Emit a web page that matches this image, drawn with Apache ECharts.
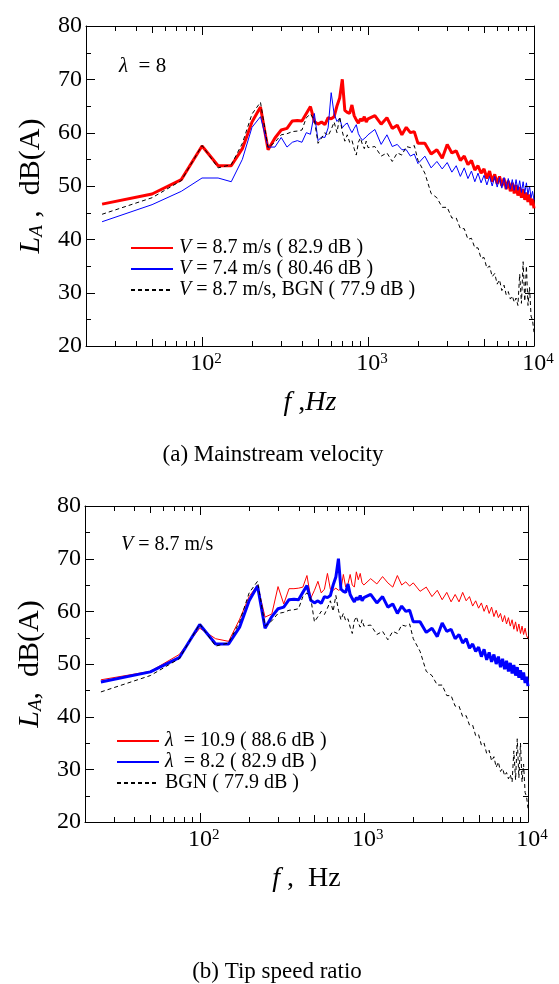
<!DOCTYPE html>
<html>
<head>
<meta charset="utf-8">
<script src="https://cdn.jsdelivr.net/npm/echarts@6/dist/echarts.min.js"></script>
<style>html,body{margin:0;background:#fff}#chart{width:559px;height:984px}</style>
</head>
<body>
<div id="chart"></div>
<script>
// frequency grid (Hz) shared by every spectrum
const freq = [25,50,75,100,125,150,175,200,225,250,275,300,325,350,375,400,425,450,475,500,
    525,550,575,600,625,650,675,700,725,750,775,800,825,850,875,900,925,950,975,1000,
    1100,1200,1300,1400,1500,1600,1700,1800,1900,2000,
    2200,2400,2600,2800,3000,3200,3400,3600,3800,4000,4200,4400,4600,4800,5000,5200,5400,5600,5800,6000,
    6200,6400,6600,6800,7000,7200,7400,7600,7800,8000,8200,8400,8600,8800,9000,9200,9400,9600,9800,10000];

// V = 8.7 m/s, lambda ~ 8 (82.9 dB) - same run in both panels
const la87 = [46.6,48.5,51.2,57.5,53.8,53.8,57.0,62.0,64.8,56.8,59.0,60.5,60.8,62.2,62.3,62.2,63.6,64.9,62.1,61.6,
    62.0,61.5,62.8,62.6,63.0,65.0,66.5,70.0,64.2,63.8,63.6,65.2,63.2,62.4,61.8,62.6,62.2,63.0,62.0,62.6,
    63.2,61.6,62.8,60.8,61.4,59.6,61.0,60.0,60.2,58.0,
    58.0,56.0,56.8,55.2,57.8,56.2,56.6,54.8,55.6,54.0,54.8,53.0,53.8,52.4,53.2,51.4,52.8,50.8,52.2,50.4,
    51.8,50.0,51.4,49.4,51.0,49.0,50.6,48.6,50.2,48.2,49.8,47.8,49.4,47.4,48.8,47.0,48.4,46.4,47.6,45.8];

// V = 7.4 m/s (80.46 dB)
const la74 = [43.3,46.5,49.0,51.5,51.5,50.8,55.0,61.0,63.0,57.3,57.3,59.1,57.3,58.2,58.5,58.2,60.0,59.7,63.6,58.5,
    59.2,59.1,60.9,67.5,63.5,62.1,62.7,60.9,61.5,61.8,60.8,60.0,60.8,61.5,59.8,59.1,58.6,58.5,59.2,59.6,
    60.6,57.8,59.6,57.4,57.8,56.8,56.8,55.6,56.0,54.2,
    55.6,53.4,54.6,53.2,54.4,52.6,53.8,51.8,53.4,51.4,52.8,50.8,52.4,50.6,52.0,50.2,51.8,50.0,51.8,49.8,
    51.6,49.6,51.6,49.4,51.4,49.4,51.2,49.2,51.2,49.2,51.0,48.8,50.8,48.6,50.6,48.4,50.0,47.8,49.0,47.4];

// background noise (77.9 dB)
const bgn = [44.7,47.8,51.0,57.6,53.4,54.0,58.0,63.5,65.7,57.2,58.2,59.6,59.8,60.2,60.3,60.5,62.8,63.5,62.4,58.0,
    59.0,60.0,59.4,60.6,62.0,60.0,63.0,60.2,58.4,59.6,58.2,58.6,57.0,55.8,58.2,59.0,57.8,57.0,58.4,57.2,
    57.4,55.6,56.2,54.6,56.2,55.8,57.4,57.2,57.6,54.8,
    52.4,48.6,47.8,46.0,46.0,44.0,44.0,42.0,42.0,40.0,40.2,38.4,38.4,36.4,36.6,34.6,35.0,33.0,33.6,31.6,
    32.4,30.4,31.4,29.6,30.2,28.8,29.4,28.2,29.0,27.6,33.5,28.0,35.8,28.4,35.0,27.6,31.0,25.6,24.8,22.6];

// lambda = 10.9 (88.6 dB)
const la109 = [47.0,48.6,51.8,56.8,54.8,54.3,58.5,62.8,65.0,58.9,59.5,64.7,61.4,64.3,64.3,64.4,64.6,66.8,62.5,64.0,
    65.7,63.5,64.2,67.2,64.2,64.0,64.4,64.0,64.2,67.0,64.6,65.2,67.0,65.0,64.6,67.5,66.0,67.2,65.4,65.0,
    66.2,65.2,66.6,65.4,64.6,66.8,65.0,65.6,64.8,65.4,
    63.8,64.6,62.8,64.0,62.2,63.6,61.8,63.2,61.8,63.6,62.0,62.8,61.0,62.0,60.6,61.6,60.0,61.2,59.6,60.8,
    59.0,60.2,58.8,59.6,58.0,59.2,57.6,58.8,57.2,58.4,56.6,58.0,56.2,57.6,55.8,57.2,55.6,56.8,55.4,54.8];

// tick positions
const xTicks = [30,40,50,60,70,80,90,100,200,300,400,500,600,700,800,900,1000,
    2000,3000,4000,5000,6000,7000,8000,9000];
const yTicks = [25,30,35,40,45,50,55,60,65,70,75];
const X_MIN = 20, X_MAX = 10000, Y_MIN = 20, Y_MAX = 80;

const serif = '"Liberation Serif", "Times New Roman", serif';

const names1 = ['V = 8.7 m/s ( 82.9 dB )', 'V = 7.4 m/s ( 80.46 dB )', 'V = 8.7 m/s, BGN ( 77.9 dB )'];
const names2 = ['λ = 10.9 ( 88.6 dB )', 'λ = 8.2 ( 82.9 dB )', 'BGN ( 77.9 dB )'];
const legendRich = {
    [names1[0]]: '{i|V}{n| = 8.7 m/s ( 82.9 dB )}',
    [names1[1]]: '{i|V}{n| = 7.4 m/s ( 80.46 dB )}',
    [names1[2]]: '{i|V}{n| = 8.7 m/s, BGN ( 77.9 dB )}',
    [names2[0]]: '{i|λ}{n|  = 10.9 ( 88.6 dB )}',
    [names2[1]]: '{i|λ}{n|  = 8.2 ( 82.9 dB )}',
    [names2[2]]: '{n|BGN ( 77.9 dB )}'
};

function isDecade(v) {
    const e = Math.log10(v);
    return Math.abs(e - Math.round(e)) < 1e-6;
}

function pairs(vals) {
    return freq.map((f, i) => [f, vals[i]]);
}

const black = '#000';
const axisLine = { onZero: false, lineStyle: { color: black, width: 1 } };

function xAxes(gi, nameRich) {
    return [{
        gridIndex: gi, type: 'log', logBase: 10, min: X_MIN, max: X_MAX, position: 'bottom',
        axisLine, axisTick: { show: false }, splitLine: { show: false },
        axisLabel: {
            margin: 6, color: black,
            formatter: (v) => isDecade(v) ? `{pad|}{b|10}{s|${Math.round(Math.log10(v))}}` : '',
            rich: {
                pad: { width: 8 },
                b: { fontFamily: serif, fontSize: 24, color: black },
                s: { fontFamily: serif, fontSize: 15, color: black, verticalAlign: 'top' }
            }
        },
        name: nameRich, nameLocation: 'middle', nameGap: 43,
        nameTextStyle: {
            color: black,
            rich: {
                i: { fontFamily: serif, fontSize: 28, fontStyle: 'italic', color: black },
                n: { fontFamily: serif, fontSize: 28, color: black }
            }
        }
    }, {
        gridIndex: gi, type: 'log', logBase: 10, min: X_MIN, max: X_MAX, position: 'top',
        axisLine, axisTick: { show: false }, axisLabel: { show: false }, splitLine: { show: false }
    }];
}

function yAxes(gi, nameRich) {
    return [{
        gridIndex: gi, type: 'value', min: Y_MIN, max: Y_MAX, interval: 10, position: 'left', axisLine,
        axisTick: { show: false }, splitLine: { show: false },
        axisLabel: { fontFamily: serif, fontSize: 24, color: black, margin: 4 },
        name: nameRich, nameLocation: 'middle', nameRotate: 90, nameGap: 40,
        nameTextStyle: {
            color: black,
            rich: {
                i: { fontFamily: serif, fontSize: 30, fontStyle: 'italic', color: black },
                sub: { fontFamily: serif, fontSize: 19, fontStyle: 'italic', color: black, verticalAlign: 'bottom' },
                n: { fontFamily: serif, fontSize: 30, color: black }
            }
        }
    }, {
        gridIndex: gi, type: 'value', min: Y_MIN, max: Y_MAX, interval: 10, position: 'right', axisLine,
        axisTick: { show: false }, axisLabel: { show: false }, splitLine: { show: false }
    }];
}

function lineSeries(gi, name, vals, color, width, dashed) {
    return {
        type: 'line', name, xAxisIndex: 2 * gi, yAxisIndex: 2 * gi,
        data: pairs(vals), showSymbol: false, symbol: 'none',
        lineStyle: { color, width, type: dashed ? [4, 3] : 'solid' },
        itemStyle: { color }
    };
}

function legendFor(names, left, top, itemWidth) {
    return {
        data: names, orient: 'vertical', left, top, itemWidth, itemHeight: 12, itemGap: 1,
        selectedMode: false, padding: 0,
        itemStyle: { opacity: 0, borderWidth: 0 },
        formatter: (name) => legendRich[name],
        textStyle: {
            color: black, padding: [0, 0, 0, 1],
            rich: {
                i: { fontFamily: serif, fontSize: 20, fontStyle: 'italic', color: black, lineHeight: 21 },
                n: { fontFamily: serif, fontSize: 20, color: black, lineHeight: 21 }
            }
        }
    };
}

const texts = [
    { type: 'text', x: 119, y: 66, style: { text: '{i|λ}{n|  = 8}', verticalAlign: 'middle',
        rich: { i: { fontFamily: serif, fontSize: 21, fontStyle: 'italic', fill: black },
                n: { fontFamily: serif, fontSize: 21, fill: black } } } },
    { type: 'text', x: 121, y: 545, style: { text: '{i|V}{n| = 8.7 m/s}', verticalAlign: 'middle',
        rich: { i: { fontFamily: serif, fontSize: 20, fontStyle: 'italic', fill: black },
                n: { fontFamily: serif, fontSize: 20, fill: black } } } },
    { type: 'text', x: 273, y: 455, style: { text: '(a) Mainstream velocity', align: 'center',
        verticalAlign: 'middle', fontFamily: serif, fontSize: 23, fill: black } },
    { type: 'text', x: 277, y: 972, style: { text: '(b) Tip speed ratio', align: 'center',
        verticalAlign: 'middle', fontFamily: serif, fontSize: 23, fill: black } }
];

const chart = echarts.init(document.getElementById('chart'));
chart.setOption({
    animation: false,
    backgroundColor: '#fff',
    grid: [
        { left: 86, top: 26, width: 448, height: 320 },
        { left: 85, top: 506, width: 443, height: 316 }
    ],
    xAxis: [
        ...xAxes(0, '{i|f}{n| ,}{i|Hz}'),
        ...xAxes(1, '{i|f}{n| ,  Hz}')
    ],
    yAxis: [
        ...yAxes(0, '{i|L}{sub|A}{n| ,  dB(A)}'),
        ...yAxes(1, '{i|L}{sub|A}{n|,  dB(A)}')
    ],
    legend: [
        legendFor(names1, 130, 238, 42),
        legendFor(names2, 116, 731, 42)
    ],
    graphic: texts,
    series: [
        lineSeries(0, names1[0], la87, '#ff0000', 3, false),
        lineSeries(0, names1[1], la74, '#0000ff', 1, false),
        lineSeries(0, names1[2], bgn, '#000000', 1, true),
        lineSeries(1, names2[0], la109, '#ff0000', 1, false),
        lineSeries(1, names2[1], la87, '#0000ff', 3, false),
        lineSeries(1, names2[2], bgn, '#000000', 1, true)
    ]
});

// inward ticks on all four edges, positioned with the axes' own scales
function tickLine(x1, y1, x2, y2) {
    return { type: 'line', silent: true, z: 100,
        shape: { x1, y1, x2, y2 }, style: { stroke: black, lineWidth: 1 } };
}
function buildTicks() {
    const els = [];
    [0, 1].forEach((gi) => {
        const finder = { xAxisIndex: 2 * gi, yAxisIndex: 2 * gi };
        xTicks.forEach((f) => {
            const len = isDecade(f) ? 9 : (String(f)[0] === '5' ? 7 : 5);
            const b = chart.convertToPixel(finder, [f, Y_MIN]);
            const t = chart.convertToPixel(finder, [f, Y_MAX]);
            const x = Math.round(b[0]) + 0.5;
            els.push(tickLine(x, b[1], x, b[1] - len));
            els.push(tickLine(x, t[1], x, t[1] + len));
        });
        yTicks.forEach((v) => {
            const len = v % 10 === 0 ? 9 : 5;
            const l = chart.convertToPixel(finder, [X_MIN, v]);
            const r = chart.convertToPixel(finder, [X_MAX, v]);
            const y = Math.round(l[1]) + 0.5;
            els.push(tickLine(l[0], y, l[0] + len, y));
            els.push(tickLine(r[0], y, r[0] - len, y));
        });
    });
    return els;
}
chart.setOption({ graphic: texts.concat(buildTicks()) });

window.addEventListener('resize', () => {
    chart.resize();
    chart.setOption({ graphic: texts.concat(buildTicks()) });
});
</script>
</body>
</html>
